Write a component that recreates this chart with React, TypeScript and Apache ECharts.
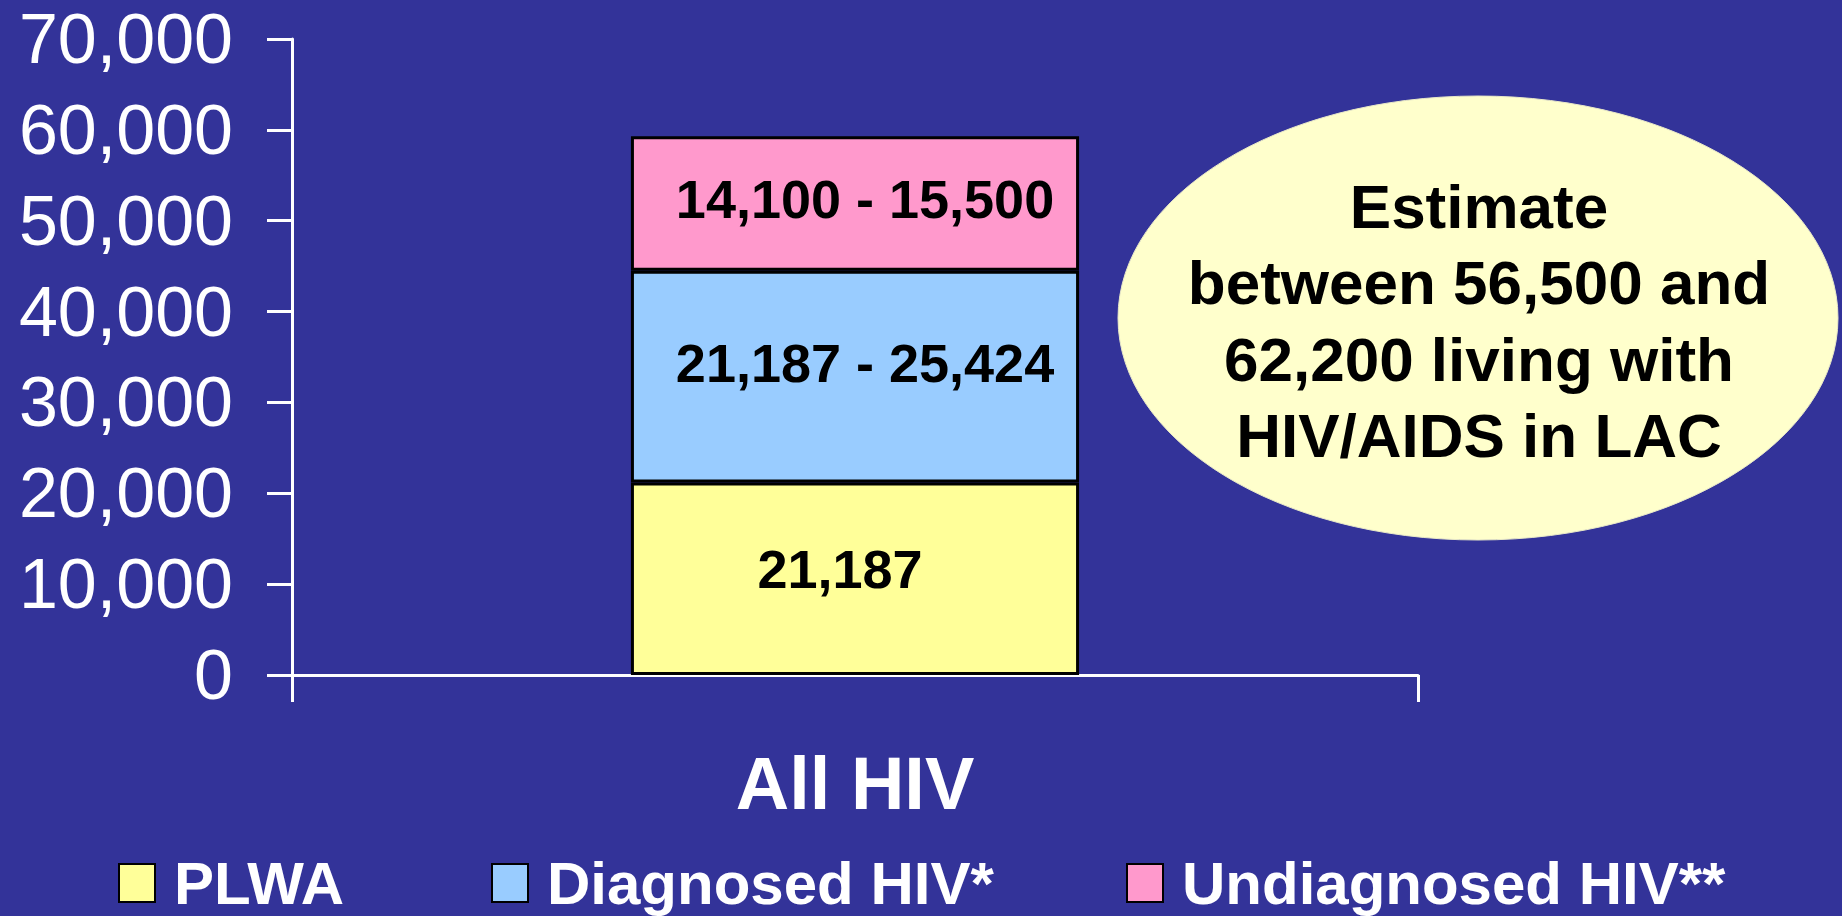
import React, { useEffect, useRef } from "react";
import * as echarts from "echarts";

const categories = ["All HIV"];
const seriesNames = ["PLWA", "Diagnosed HIV*", "Undiagnosed HIV**"];
const plwa = [21187];
const diagnosed = [23305];
const undiagnosed = [14800];
const segmentLabels = ["21,187", "21,187 - 25,424", "14,100 - 15,500"];
const yTicks = { min: 0, max: 70000, interval: 10000 };
const calloutLines = ["Estimate", "between 56,500 and", "62,200 living with", "HIV/AIDS in LAC"];

const FONT = "'Liberation Sans', Arial, Helvetica, sans-serif";
const colors = ["#FFFF99", "#99CCFF", "#FF99CC"];

export default function App() {
  const ref = useRef<HTMLDivElement>(null);
  useEffect(() => {
    if (!ref.current) return;
    const chart = echarts.init(ref.current, null, { renderer: "svg" });
    const values = [plwa, diagnosed, undiagnosed];
    const offsets = [[-15, -10], [10, -14], [10, -5]];
    const legendLefts = [118, 491, 1126];
    chart.setOption({
      animation: false,
      backgroundColor: "#333399",
      grid: { left: 292, right: 424, top: 39, bottom: 241, containLabel: false },
      legend: seriesNames.map((n, i) => ({
        data: [n],
        left: legendLefts[i],
        top: 853,
        padding: 0,
        itemWidth: 36,
        itemHeight: 38,
        icon: "rect",
        selectedMode: false,
        textStyle: {
          color: "#ffffff",
          fontSize: 60,
          fontWeight: "bold",
          fontFamily: FONT,
          padding: [0, 0, 0, 14],
        },
      })),
      xAxis: {
        type: "category",
        data: categories,
        axisLine: { lineStyle: { color: "#ffffff", width: 3 } },
        axisTick: { show: true, length: 27, lineStyle: { color: "#ffffff", width: 3 } },
        axisLabel: {
          color: "#ffffff",
          fontSize: 74,
          fontWeight: "bold",
          fontFamily: FONT,
          margin: 71,
        },
      },
      yAxis: {
        type: "value",
        min: yTicks.min,
        max: yTicks.max,
        interval: yTicks.interval,
        splitLine: { show: false },
        axisLine: { show: true, lineStyle: { color: "#ffffff", width: 3 } },
        axisTick: { show: true, inside: false, length: 25, lineStyle: { color: "#ffffff", width: 3 } },
        axisLabel: {
          color: "#ffffff",
          fontSize: 70,
          fontFamily: FONT,
          margin: 59,
          formatter: (v: number) => v.toLocaleString("en-US"),
        },
      },
      series: seriesNames.map((n, i) => ({
        name: n,
        type: "bar",
        stack: "total",
        barWidth: "39.8%",
        data: values[i],
        itemStyle: { color: colors[i], borderColor: "#000000", borderWidth: 3 },
        label: {
          show: true,
          position: "inside",
          offset: offsets[i],
          formatter: () => segmentLabels[i],
          color: "#000000",
          fontSize: 54,
          fontWeight: "bold",
          fontFamily: FONT,
        },
      })),
      graphic: [
        {
          type: "ellipse",
          shape: { cx: 1478, cy: 318, rx: 360, ry: 222 },
          style: { fill: "#FFFFCC", stroke: "#E8E8C8", lineWidth: 1 },
          z: 10,
        },
        ...calloutLines.map((t, i) => ({
          type: "text",
          x: 1479,
          y: 206 + i * 76.5,
          z: 11,
          style: {
            text: t,
            fill: "#000000",
            font: `bold 62px ${FONT}`,
            textAlign: "center",
            textVerticalAlign: "middle",
          },
        })),
      ],
    });
    return () => chart.dispose();
  }, []);
  return (
    <div
      ref={ref}
      style={{ position: "fixed", left: 0, top: 0, width: 1842, height: 916 }}
    />
  );
}
